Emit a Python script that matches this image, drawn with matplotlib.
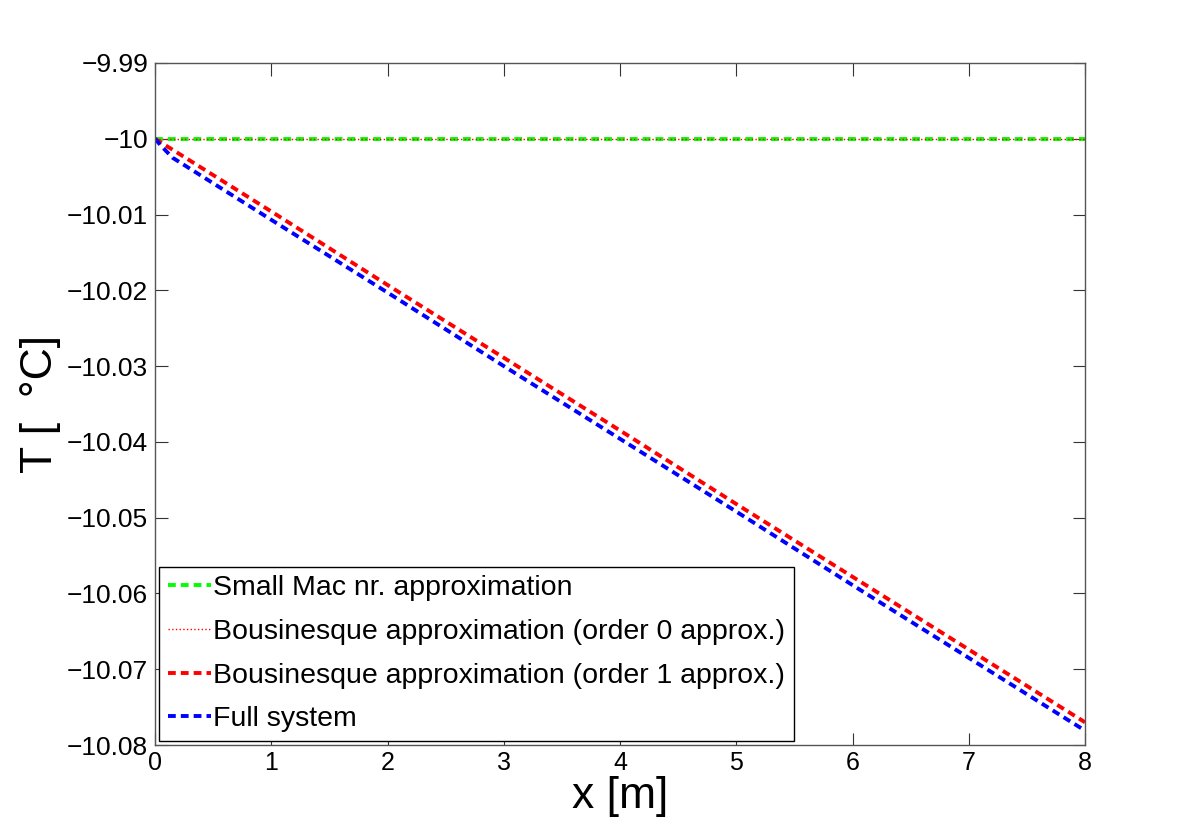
import numpy as np
import matplotlib.pyplot as plt

plt.rcParams['font.family'] = ['Liberation Sans', 'DejaVu Sans']

# ------------------------------- datos -------------------------------
x_flat = [0.0, 8.0]
T_mac = [-10.0, -10.0]                 # Small Mac nr. approximation
T_bous0 = [-10.0, -10.0]               # Bousinesque order 0
x = [0.0, 0.05, 0.15, 1, 2, 3, 4, 5, 6, 7, 8]
T_bous1 = [-10.0, -10.0005, -10.00144, -10.0096, -10.0193, -10.0289,
           -10.0385, -10.0482, -10.0578, -10.0674, -10.0770]
T_full = [-10.0, -10.0009, -10.0025, -10.0107, -10.0203, -10.0300,
          -10.0396, -10.0492, -10.0589, -10.0685, -10.0781]

xticks = [0, 1, 2, 3, 4, 5, 6, 7, 8]
yticks = [-10.08, -10.07, -10.06, -10.05, -10.04, -10.03, -10.02, -10.01, -10.0, -9.99]
ylabels = ['\u221210.08', '\u221210.07', '\u221210.06', '\u221210.05', '\u221210.04',
           '\u221210.03', '\u221210.02', '\u221210.01', '\u221210', '\u22129.99']

fig = plt.figure(figsize=(12, 8.39), dpi=100)
ax = fig.add_axes([0.1292, 0.112, 0.775, 0.813])

ax.plot(x_flat, T_mac, color=(0, 1, 0), linestyle='--', dashes=(2.0, 1.3),
        linewidth=2.8, label='Small Mac nr. approximation')
ax.plot(x_flat, T_bous0, color='red', linestyle=':', linewidth=1.0,
        label='Bousinesque approximation (order 0 approx.)')
ax.plot(x, T_bous1, color='red', linestyle='--', dashes=(2.0, 1.3),
        linewidth=2.8, label='Bousinesque approximation (order 1 approx.)')
ax.plot(x, T_full, color='blue', linestyle='--', dashes=(2.0, 1.3),
        linewidth=2.8, label='Full system')

ax.set_xlim(0, 8)
ax.set_ylim(-10.08, -9.99)
ax.set_xticks(xticks)
ax.set_yticks(yticks)
ax.set_yticklabels(ylabels)
ax.tick_params(direction='in', length=9, width=0.8, labelsize=19,
               top=True, right=True, color='#333333', pad=5)
ax.tick_params(axis='x', labelsize=18, pad=4)
for s in ax.spines.values():
    s.set_color('#555555')
    s.set_linewidth(1.0)

ax.set_xlabel('x [m]', fontsize=32, labelpad=1)
ax.set_ylabel('T [  \u00b0C]', fontsize=32, labelpad=4)

leg = ax.legend(loc='lower left', fontsize=20.5, handlelength=1.5,
                handletextpad=0.1, labelspacing=0.62, borderpad=0.3,
                borderaxespad=0.15, fancybox=False, framealpha=1)
leg.get_frame().set_edgecolor('black')
leg.get_frame().set_linewidth(1.0)

plt.savefig('out.png', dpi=100)
